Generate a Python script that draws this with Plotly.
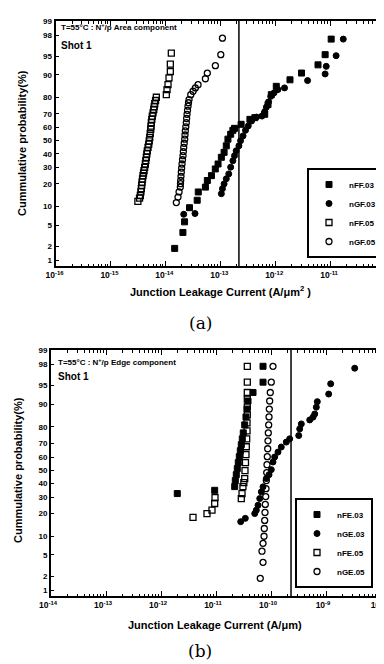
import math
import numpy as np
import plotly.graph_objects as go

# ---------------- data (a) : Area component, x = log10(current A/um^2), y = cumulative % ----------------
a_nFF03_log = [-13.83, -13.68, -13.65, -13.56, -13.42, -13.40, -13.27, -13.235, -13.16, -13.09, -13.04,
               -12.98, -12.93, -12.89, -12.86, -12.81, -12.77, -12.74, -12.62, -12.46, -12.37, -12.19,
               -12.13, -12.07, -11.98, -11.73, -11.52, -11.22, -11.09, -10.98]
a_nFF03_pct = [1.8, 3.7, 5.7, 9.6, 12.3, 15.9, 18.3, 21.9, 24.8, 29.1, 32.5,
               37.3, 41.0, 46.0, 51.2, 55.0, 58.0, 59.5, 62.5, 66.1, 67.3, 69.6,
               75.9, 81.5, 85.5, 88.2, 90.6, 93.0, 95.3, 97.6]

a_nGF03_log = [-13.665, -13.46, -12.98, -12.96, -12.93, -12.89, -12.845, -12.81, -12.77, -12.74, -12.71,
               -12.66, -12.63, -12.585, -12.54, -12.49, -12.43, -12.34, -12.24, -12.19, -12.16, -12.12,
               -12.08, -12.02, -11.95, -11.83, -11.41, -11.09, -11.07, -10.89, -10.76]
a_nGF03_pct = [7.6, 7.8, 15.1, 17.5, 20.0, 22.9, 25.9, 30.3, 34.8, 38.5, 42.2,
               46.0, 50.0, 53.7, 58.0, 61.3, 64.9, 67.7, 68.4, 71.4, 74.3, 77.5,
               80.6, 82.4, 84.0, 84.8, 87.9, 90.3, 92.6, 95.1, 97.6]

a_nFF05_log = [-14.50, -14.47, -14.455, -14.445, -14.437, -14.43, -14.424, -14.415, -14.406, -14.397, -14.388,
               -14.376, -14.364, -14.355, -14.346, -14.337, -14.328, -14.315, -14.302, -14.293, -14.284,
               -14.275, -14.266, -14.26, -14.255, -14.246, -14.237, -14.224, -14.211, -14.202, -14.193,
               -14.178, -14.164, -13.982, -13.969, -13.951, -13.933, -13.909, -13.909, -13.891]
a_nFF05_pct = [11.9, 13.2, 14.3, 15.9, 17.5, 19.2, 21.0, 22.9, 24.8, 26.4, 28.0,
               30.2, 32.5, 34.9, 37.3, 39.8, 42.2, 44.8, 47.3, 49.9, 52.5,
               55.7, 58.8, 61.2, 63.7, 66.1, 68.4, 70.6, 72.8, 74.6, 76.4,
               78.3, 80.1, 81.5, 84.0, 86.2, 88.9, 91.1, 93.2, 95.6]

a_nGF05_log = [-13.80, -13.769, -13.75, -13.727, -13.724, -13.72, -13.715, -13.709, -13.703, -13.696,
               -13.687, -13.678, -13.672, -13.665, -13.656, -13.647, -13.642, -13.636, -13.627, -13.618,
               -13.612, -13.605, -13.596, -13.587, -13.578, -13.568, -13.537, -13.495, -13.453, -13.404,
               -13.271, -13.235, -13.089, -12.99, -12.96]
a_nGF05_pct = [11.4, 13.6, 15.9, 18.3, 20.1, 21.9, 24.4, 27.0, 29.7, 32.5,
               35.5, 38.5, 41.6, 44.8, 48.0, 51.2, 54.4, 57.5, 60.6, 63.7,
               66.7, 69.6, 72.3, 74.9, 77.0, 78.8, 81.5, 83.2, 84.8, 86.2,
               88.6, 90.6, 92.8, 95.3, 97.7]

# ---------------- data (b) : Edge component, x = log10(current A/um), y = cumulative % ----------------
b_nFE03_log = [-11.704, -11.024, -10.66, -10.649, -10.631, -10.613, -10.595, -10.576, -10.558, -10.54,
               -10.522, -10.504, -10.478, -10.455, -10.436, -10.418, -10.327, -10.145, -10.145]
b_nFE03_pct = [32.5, 34.8, 37.5, 42.0, 46.5, 51.2, 55.8, 60.3, 64.7, 68.9,
               72.8, 76.5, 81.0, 84.9, 88.2, 91.0, 93.4, 95.6, 97.8]

b_nGE03_log = [-10.551, -10.467, -10.296, -10.267, -10.236, -10.205, -10.176, -10.145, -10.085, -10.036,
               -9.995, -9.964, -9.933, -9.873, -9.813, -9.722, -9.66, -9.496, -9.478, -9.449,
               -9.296, -9.236, -9.205, -9.176, -9.158, -8.951, -8.915, -8.478]
b_nGE03_pct = [15.9, 17.5, 20.0, 21.9, 24.8, 29.1, 33.7, 37.3, 43.5, 46.5,
               50.4, 56.3, 60.1, 63.7, 67.3, 70.7, 72.8, 74.9, 78.8, 81.5,
               83.5, 84.8, 86.2, 88.9, 90.8, 93.0, 95.3, 97.6]

b_nFE05_log = [-11.418, -11.164, -11.073, -11.024, -11.018, -10.54, -10.527, -10.51, -10.494, -10.478,
               -10.473, -10.464, -10.455, -10.449, -10.442, -10.436, -10.436, -10.431, -10.431, -10.431,
               -10.431, -10.431, -10.431]
b_nFE05_pct = [18.0, 20.0, 21.9, 25.9, 29.8, 29.1, 32.5, 37.5, 40.5, 43.5,
               49.6, 55.8, 61.8, 67.5, 72.8, 77.7, 82.0, 85.8, 89.0, 91.6,
               93.4, 95.6, 97.8]

b_nGE05_log = [-10.195, -10.145, -10.164, -10.145, -10.127, -10.122, -10.115, -10.109, -10.104, -10.096,
               -10.091, -10.085, -10.078, -10.073, -10.067, -10.06, -10.055, -10.049, -10.042, -10.036,
               -10.031, -10.024, -10.013, -9.995, -9.964]
b_nGE05_pct = [1.8, 3.7, 5.8, 7.8, 10.0, 12.9, 16.5, 20.6, 25.3, 30.4,
               36.0, 42.0, 48.1, 54.2, 60.3, 66.1, 71.5, 76.5, 81.0, 84.9,
               88.2, 91.0, 93.4, 95.6, 97.8]

a_limit_log = -12.66
b_limit_log = -9.636

prob_ticks = [1, 2, 5, 10, 20, 30, 40, 50, 60, 70, 80, 90, 95, 98, 99]
a_exponents = [-16, -15, -14, -13, -12, -11, -10]
b_exponents = [-14, -13, -12, -11, -10, -9, -8]


def probit(pct):
    q = pct / 100.0
    lo, hi = -8.0, 8.0
    for _ in range(80):
        mid = (lo + hi) / 2
        if 0.5 * (1 + math.erf(mid / math.sqrt(2))) < q:
            lo = mid
        else:
            hi = mid
    return (lo + hi) / 2


def P(lst):
    return [probit(v) for v in lst]


def X(lst):
    return [10 ** v for v in lst]


FONT = "Liberation Sans, Arial, sans-serif"
fig = go.Figure()

styles = {
    "fsq": dict(symbol="square", color="black", size=6, line=dict(color="black", width=1)),
    "fci": dict(symbol="circle", color="black", size=6, line=dict(color="black", width=1)),
    "osq": dict(symbol="square-open", color="black", size=6, line=dict(color="black", width=1.3)),
    "oci": dict(symbol="circle-open", color="black", size=6, line=dict(color="black", width=1.3)),
}

top = [("nFF.03", a_nFF03_log, a_nFF03_pct, "fsq"), ("nGF.03", a_nGF03_log, a_nGF03_pct, "fci"),
       ("nFF.05", a_nFF05_log, a_nFF05_pct, "osq"), ("nGF.05", a_nGF05_log, a_nGF05_pct, "oci")]
bot = [("nFE.03", b_nFE03_log, b_nFE03_pct, "fsq"), ("nGE.03", b_nGE03_log, b_nGE03_pct, "fci"),
       ("nFE.05", b_nFE05_log, b_nFE05_pct, "osq"), ("nGE.05", b_nGE05_log, b_nGE05_pct, "oci")]

for name, lx, py, st in top:
    fig.add_trace(go.Scatter(x=X(lx), y=P(py), mode="markers", name=name, marker=styles[st],
                             xaxis="x", yaxis="y", legend="legend"))
for name, lx, py, st in bot:
    fig.add_trace(go.Scatter(x=X(lx), y=P(py), mode="markers", name=name, marker=styles[st],
                             xaxis="x2", yaxis="y2", legend="legend2"))

yr = [-2.44, 2.33]


def xax(exps, dom, anchor, shift=0):
    return dict(type="log", domain=dom, anchor=anchor, range=[exps[0], exps[-1]],
                tickvals=[10 ** e for e in exps],
                ticktext=["10<sup>%d</sup>" % e for e in exps],
                ticks="inside", ticklen=5, tickwidth=1, tickcolor="black",
                minor=dict(ticks="inside", ticklen=2.5, tickcolor="black", dtick="D1", showgrid=False),
                showline=True, linewidth=2, linecolor="black", mirror="ticks",
                showgrid=False, zeroline=False, automargin=False, ticklabelshift=shift,
                tickfont=dict(family=FONT, size=8.5, color="black", weight="bold"))


def yax(dom, anchor):
    return dict(domain=dom, anchor=anchor, range=yr,
                tickvals=[probit(v) for v in prob_ticks], ticktext=[str(v) for v in prob_ticks],
                ticks="inside", ticklen=3, tickcolor="black",
                showline=True, linewidth=2, linecolor="black", mirror=True,
                showgrid=False, zeroline=False, automargin=False,
                tickfont=dict(family=FONT, size=8, color="black", weight="bold"))


legfont = dict(family=FONT, size=8, color="black", weight="bold")
fig.update_layout(
    width=384, height=664, template="none",
    margin=dict(l=0, r=0, t=0, b=0),
    paper_bgcolor="white", plot_bgcolor="white", showlegend=True,
    xaxis=xax(a_exponents, [47.5 / 384, 377 / 384], "y", shift=-1),
    yaxis=yax([1 - 258 / 664, 1 - 13 / 664], "x"),
    xaxis2=xax(b_exponents, [43 / 384, 373 / 384], "y2", shift=-3),
    yaxis2=yax([1 - 588 / 664, 1 - 342 / 664], "x2"),
    legend=dict(x=375 / 384, y=1 - 250 / 664, xanchor="right", yanchor="bottom",
                bordercolor="black", borderwidth=2, bgcolor="white",
                font=legfont, tracegroupgap=0, itemwidth=30),
    legend2=dict(x=365 / 384, y=1 - 580 / 664, xanchor="right", yanchor="bottom",
                 bordercolor="black", borderwidth=2, bgcolor="white",
                 font=legfont, tracegroupgap=0, itemwidth=30),
)

# spec limit lines
fig.add_shape(type="line", xref="x", yref="y domain", x0=10 ** a_limit_log, x1=10 ** a_limit_log, y0=0, y1=1,
              line=dict(color="black", width=1.5))
fig.add_shape(type="line", xref="x2", yref="y2 domain", x0=10 ** b_limit_log, x1=10 ** b_limit_log, y0=0, y1=1,
              line=dict(color="black", width=1.5))


def txt(x, y, s, size, xanchor="left", angle=0, family=FONT, weight="bold"):
    fig.add_annotation(x=x / 384, y=1 - y / 664, xref="paper", yref="paper", text=s, showarrow=False,
                       xanchor=xanchor, yanchor="middle", textangle=angle,
                       font=dict(family=family, size=size, color="black", weight=weight))


txt(51, 19, "T=55°C : N<sup>+</sup>/p Area component", 8)
txt(51, 37, "Shot 1", 10)
txt(212, 283, "Junction Leakage Current (A/μm<sup>2</sup> )", 11, xanchor="center")
txt(14, 135, "Cummulative probability(%)", 11, xanchor="center", angle=-90)
txt(192, 315, "(a)", 17, xanchor="center", family="DejaVu Serif", weight="normal")

txt(48, 354, "T=55°C : N<sup>+</sup>/p Edge component", 8)
txt(48, 368, "Shot 1", 10)
txt(207, 617, "Junction Leakage Current (A/μm)", 11, xanchor="center")
txt(10, 462, "Cummulative probability(%)", 11, xanchor="center", angle=-90)
txt(192, 643, "(b)", 17, xanchor="center", family="DejaVu Serif", weight="normal")

fig.write_html("out.html")
